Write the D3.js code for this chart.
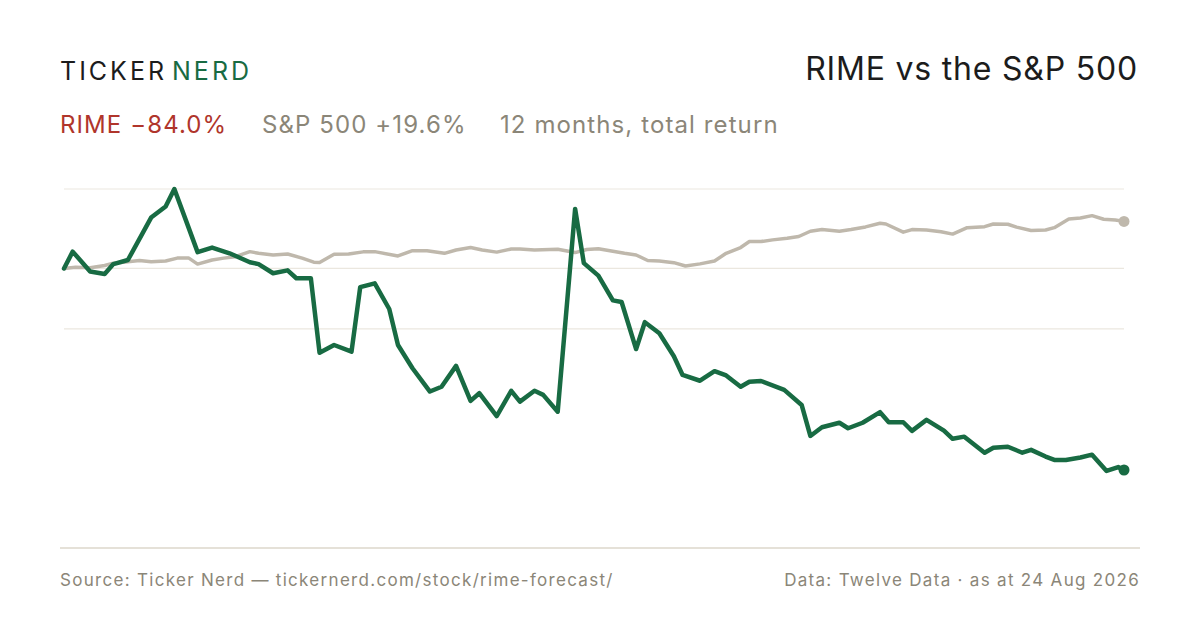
<!DOCTYPE html>
<html><head><meta charset="utf-8">
<script src="https://cdn.jsdelivr.net/npm/d3@7"></script>
<style>
html,body{margin:0;padding:0;background:#fff;}
svg{display:block;font-family:Inter,"Noto Sans",sans-serif;}
</style></head>
<body>
<svg id="chart" width="1200" height="630"></svg>
<script>
// ---- data ----
const startDate = "2025-08-24";
const rimeDays = [0,3,9,14,17,22,30,35,38,43,46,51,57,64,67,72,77,80,85,88,93,99,102,107,112,115,120,126,130,135,140,143,149,154,157,162,165,170,176,179,184,189,192,197,200,205,210,213,219,224,228,233,236,240,248,254,257,261,267,270,275,281,284,289,292,297,303,306,310,317,320,325,330,333,338,341,345,350,354,359,363,365];
const rime = [0,7.0,-1.3,-2.3,1.8,3.5,21.2,25.8,33.1,16.7,6.8,8.7,6.3,2.6,1.8,-2.0,-0.8,-4.1,-4.1,-35.1,-31.9,-34.7,-7.8,-6.2,-16.9,-31.9,-41.6,-51.3,-49.3,-40.6,-55.2,-52.0,-61.5,-51.0,-55.5,-51.0,-52.7,-59.7,24.8,2.2,-3.0,-13.3,-14.0,-33.6,-22.4,-27.0,-36.6,-44.4,-46.8,-42.8,-44.6,-49.3,-47.2,-46.9,-50.6,-56.9,-69.8,-66.2,-64.3,-66.6,-64.3,-59.9,-64.1,-64.1,-67.7,-63.1,-67.6,-71.0,-70.1,-76.8,-74.7,-74.3,-76.8,-75.6,-78.4,-79.8,-79.8,-78.8,-77.6,-84.4,-82.8,-84.0];
const spxDays = [0,4,9,14,17,22,26,30,35,39,43,46,51,55,59,64,67,72,77,82,86,88,93,98,103,107,115,120,125,131,135,140,144,149,154,157,162,170,176,180,184,193,197,201,205,210,214,219,224,228,233,236,240,244,249,253,257,261,267,271,276,281,283,289,292,297,302,306,311,317,320,325,328,333,338,341,346,350,354,358,362,365];
const spx = [0,0.5,0.3,1.2,2.2,2.8,3.3,2.8,3.1,4.3,4.3,1.8,3.5,4.3,4.9,7.0,6.3,5.6,6.0,4.3,2.6,2.5,5.9,6.0,6.9,7.0,5.2,7.4,7.4,6.3,7.7,8.7,7.7,6.8,8.1,8.1,7.7,8.0,6.6,7.9,8.2,6.3,5.6,3.3,3.1,2.4,1.0,1.9,3.1,6.3,8.7,11.2,11.2,11.9,12.6,13.3,15.5,16.2,15.5,16.2,17.3,18.8,18.5,15.1,16.2,16.0,15.3,14.3,17.0,17.4,18.5,18.4,17.2,15.8,16.0,17.0,20.6,21.0,22.0,20.5,20.2,19.6];
const gridValues = [33.1, 0, -25.2];
const yDomain = [-116.5, 33.1];
const brandParts = ["TICKER", "NERD"];
const title = "RIME vs the S&P 500";
const legendItems = [
  {text: "RIME \u221284.0%", kind: "rime"},
  {text: "S&P 500 +19.6%", kind: "spx"},
  {text: "12 months, total return", kind: "note"}
];
const sourceText = "Source: Ticker Nerd \u2014 tickernerd.com/stock/rime-forecast/";
const dataText = "Data: Twelve Data \u00b7 as at 24 Aug 2026";

// ---- styles ----
const GREEN = "#186b43", RED = "#b0352b", GREY = "#8b8678", SPX = "#bfb8ac", INK = "#1c1c1c";

const svg = d3.select("#chart");
const t0 = d3.isoParse(startDate);
const toDate = d => d3.timeDay.offset(t0, d);
const endDate = toDate(365);

const x = d3.scaleTime().domain([t0, endDate]).range([64, 1124]);
const y = d3.scaleLinear().domain(yDomain).range([548, 189]);

// header
const brand = svg.append("text").attr("x", 60).attr("y", 80)
  .attr("font-size", 25).attr("letter-spacing", 3.0).attr("font-weight", 400);
brand.append("tspan").attr("fill", INK).text(brandParts[0]);
brand.append("tspan").attr("fill", GREEN).attr("dx", 5).text(brandParts[1]);

svg.append("text").attr("x", 1138).attr("y", 80).attr("text-anchor", "end")
  .attr("font-size", 32).attr("letter-spacing", 0.8).attr("fill", INK).text(title);

const legendX = [60, 262, 500];
const legendColor = {rime: RED, spx: GREY, note: GREY};
svg.selectAll("text.legend").data(legendItems).join("text")
  .attr("class", "legend")
  .attr("x", (d, i) => legendX[i]).attr("y", 133)
  .attr("font-size", 24).attr("letter-spacing", 1.1)
  .attr("fill", d => legendColor[d.kind]).text(d => d.text);

// gridlines
svg.selectAll("line.grid").data(gridValues).join("line")
  .attr("class", "grid")
  .attr("x1", 64).attr("x2", 1124)
  .attr("y1", d => y(d)).attr("y2", d => y(d))
  .attr("stroke", "#ebe7df").attr("stroke-width", 1.2);

// baseline
svg.append("line").attr("x1", 60).attr("x2", 1140)
  .attr("y1", y(yDomain[0])).attr("y2", y(yDomain[0]))
  .attr("stroke", "#dcd7cb").attr("stroke-width", 1.5);

const line = d3.line().x(d => x(toDate(d[0]))).y(d => y(d[1]));
const spxData = spxDays.map((d, i) => [d, spx[i]]);
const rimeData = rimeDays.map((d, i) => [d, rime[i]]);

svg.append("path").datum(spxData).attr("d", line)
  .attr("fill", "none").attr("stroke", SPX).attr("stroke-width", 3.5)
  .attr("stroke-linejoin", "round").attr("stroke-linecap", "round");
svg.append("path").datum(rimeData).attr("d", line)
  .attr("fill", "none").attr("stroke", GREEN).attr("stroke-width", 4.5)
  .attr("stroke-linejoin", "round").attr("stroke-linecap", "round");

const lastS = spxData[spxData.length - 1], lastR = rimeData[rimeData.length - 1];
svg.append("circle").attr("cx", x(toDate(lastS[0]))).attr("cy", y(lastS[1])).attr("r", 5.5).attr("fill", SPX);
svg.append("circle").attr("cx", x(toDate(lastR[0]))).attr("cy", y(lastR[1])).attr("r", 5.5).attr("fill", GREEN);

// footer
svg.append("text").attr("x", 60).attr("y", 586).attr("font-size", 17).attr("letter-spacing", 1.3)
  .attr("fill", GREY).text(sourceText);
svg.append("text").attr("x", 1140).attr("y", 586).attr("text-anchor", "end")
  .attr("font-size", 17).attr("letter-spacing", 1.3).attr("fill", GREY).text(dataText);
</script>
</body></html>
